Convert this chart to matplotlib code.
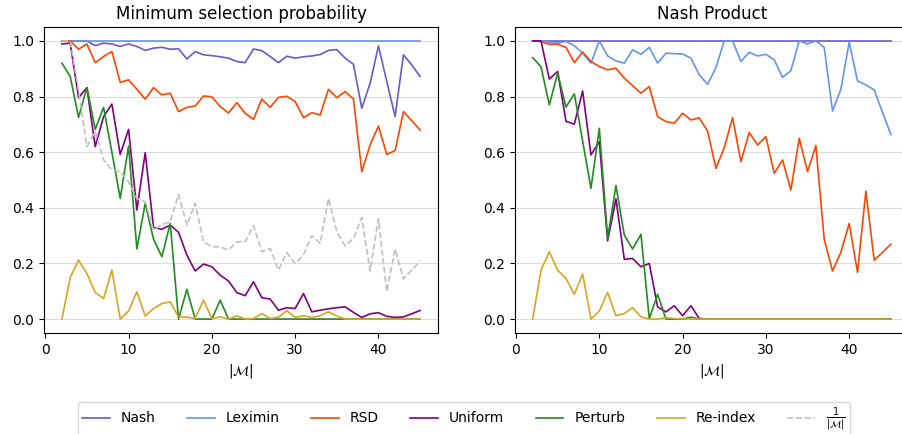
import matplotlib
matplotlib.use("Agg")
import matplotlib.pyplot as plt

# number of items |M|
m_sizes = list(range(2, 46))

# --- Minimum selection probability ---
nash_min = [1.0, 1.0, 1.0, 1.0, 0.983, 0.992, 0.989, 0.98, 0.989, 0.98, 0.966, 0.974,
            0.977, 0.97, 0.972, 0.935, 0.962, 0.95, 0.947, 0.943, 0.938, 0.926,
            0.922, 0.971, 0.965, 0.944, 0.922, 0.945, 0.938, 0.943, 0.946, 0.951,
            0.966, 0.969, 0.938, 0.916, 0.758, 0.848, 0.982, 0.854, 0.728, 0.95,
            0.914, 0.872]
leximin_min = [1.0] * 44
rsd_min = [1.0, 1.0, 0.97, 0.989, 0.922, 0.944, 0.962, 0.851, 0.86, 0.826, 0.791,
           0.832, 0.806, 0.812, 0.746, 0.761, 0.766, 0.802, 0.799, 0.764, 0.741, 0.778,
           0.74, 0.718, 0.791, 0.761, 0.797, 0.801, 0.782, 0.724, 0.742, 0.734, 0.826,
           0.796, 0.818, 0.791, 0.53, 0.626, 0.694, 0.592, 0.606, 0.746, 0.713, 0.68]
uniform_min = [0.989, 0.992, 0.796, 0.832, 0.62, 0.728, 0.773, 0.592, 0.682, 0.392,
               0.598, 0.329, 0.323, 0.338, 0.312, 0.23, 0.173, 0.198, 0.188, 0.158,
               0.137, 0.095, 0.084, 0.134, 0.077, 0.072, 0.032, 0.041, 0.038, 0.092,
               0.026, 0.032, 0.037, 0.041, 0.044, 0.024, 0.006, 0.019, 0.023, 0.01,
               0.006, 0.008, 0.019, 0.031]
perturb_min = [0.92, 0.872, 0.725, 0.833, 0.682, 0.761, 0.6, 0.434, 0.622, 0.252,
               0.416, 0.287, 0.224, 0.344, 0.0, 0.107, 0.0, 0.0, 0.0, 0.068, 0.0, 0.0] + [0.0] * 22
reindex_min = [0.0, 0.15, 0.212, 0.164, 0.096, 0.074, 0.176, 0.0, 0.029, 0.098, 0.011,
               0.038, 0.056, 0.062, 0.008, 0.007, 0.002, 0.068, 0.002, 0.008, 0.0, 0.012,
               0.0, 0.002, 0.02, 0.002, 0.007, 0.03, 0.006, 0.012, 0.006, 0.012, 0.026,
               0.011] + [0.0] * 10
inv_m = [1.0, 1.0, 0.82, 0.62, 0.674, 0.572, 0.536, 0.53, 0.494, 0.434, 0.422, 0.32,
         0.34, 0.35, 0.448, 0.338, 0.416, 0.278, 0.26, 0.26, 0.248, 0.278,
         0.278, 0.336, 0.242, 0.254, 0.176, 0.239, 0.2, 0.23, 0.3, 0.272, 0.434,
         0.314, 0.263, 0.29, 0.365, 0.173, 0.36, 0.098, 0.252, 0.144, 0.176, 0.209]

# --- Nash product ---
nash_np = [1.0] * 44
leximin_np = [1.0, 1.0, 0.995, 0.992, 0.998, 0.983, 0.956, 0.92, 1.0, 0.946, 0.928,
              0.92, 0.968, 0.952, 0.977, 0.92, 0.956, 0.954, 0.953, 0.938, 0.878,
              0.844, 0.904, 1.0, 1.0, 0.926, 0.959, 0.946, 0.952, 0.932, 0.869, 0.893,
              1.0, 0.989, 1.0, 0.977, 0.748, 0.826, 0.995, 0.856, 0.842, 0.824, 0.743,
              0.664]
rsd_np = [1.0, 0.998, 0.988, 0.988, 0.977, 0.922, 0.96, 0.926, 0.908, 0.896, 0.902,
          0.866, 0.839, 0.812, 0.836, 0.728, 0.71, 0.704, 0.74, 0.716, 0.723,
          0.676, 0.542, 0.616, 0.724, 0.566, 0.671, 0.626, 0.656, 0.524, 0.572, 0.464,
          0.65, 0.53, 0.624, 0.287, 0.173, 0.24, 0.344, 0.168, 0.46, 0.212, 0.24, 0.269]
uniform_np = [1.0, 1.0, 0.863, 0.89, 0.711, 0.701, 0.82, 0.59, 0.638, 0.281, 0.432,
              0.215, 0.218, 0.188, 0.2, 0.044, 0.026, 0.048, 0.012, 0.048, 0.002] + [0.0] * 23
perturb_np = [0.94, 0.907, 0.77, 0.884, 0.762, 0.81, 0.64, 0.47, 0.686, 0.29, 0.48,
              0.302, 0.252, 0.305, 0.002, 0.089, 0.0, 0.0, 0.0, 0.007, 0.0] + [0.0] * 23
reindex_np = [0.0, 0.176, 0.242, 0.176, 0.146, 0.089, 0.162, 0.0, 0.029, 0.096, 0.012,
              0.02, 0.041, 0.008, 0.0, 0.0, 0.005, 0.002, 0.0, 0.0, 0.0] + [0.0] * 23

names = ["Nash", "Leximin", "RSD", "Uniform", "Perturb", "Re-index"]
colors = ["slateblue", "cornflowerblue", "orangered", "purple", "forestgreen", "goldenrod"]

fig = plt.figure(figsize=(9.02, 4.34), dpi=100)
W, H = 902, 434
ax1 = fig.add_axes([44 / W, 101 / H, 394 / W, 306 / H])
ax2 = fig.add_axes([514.75 / W, 101 / H, 394 / W, 306 / H])

lw = 1.2
series_left = [nash_min, leximin_min, rsd_min, uniform_min, perturb_min, reindex_min]
series_right = [nash_np, leximin_np, rsd_np, uniform_np, perturb_np, reindex_np]

for name, c, ys in zip(names, colors, series_left):
    ax1.plot(m_sizes, ys, color=c, lw=lw, label=name)
ax1.plot(m_sizes, inv_m, color="silver", lw=lw, ls="--", label=r"$\frac{1}{|\mathcal{M}|}$")

for name, c, ys in zip(names, colors, series_right):
    ax2.plot(m_sizes, ys, color=c, lw=lw)

for ax, title in [(ax1, "Minimum selection probability"), (ax2, "Nash Product")]:
    ax.set_title(title, fontsize=12)
    ax.set_xlabel(r"$|\mathcal{M}|$", fontsize=10)
    ax.grid(axis="y", color="#dddddd", lw=0.8)
    ax.set_axisbelow(True)
    ax.set_ylim(-0.05, 1.05)
    ax.tick_params(labelsize=10)

handles, labels = ax1.get_legend_handles_labels()
fig.legend(handles, labels, loc="upper center", ncol=7, columnspacing=2.25,
           borderpad=0.3, bbox_to_anchor=(464 / W, 1 - 395 / H), fontsize=10)

fig.savefig("out.png", dpi=100)
